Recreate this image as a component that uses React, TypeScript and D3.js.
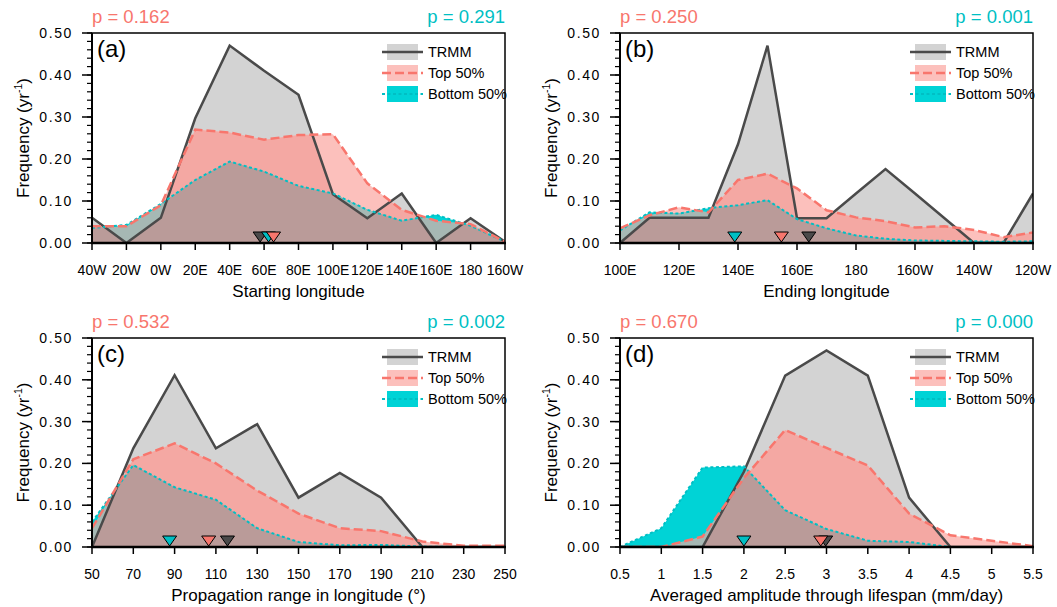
import React from "react";
import * as d3 from "d3";

// ---------- Data ----------
const aX = [-40, -20, 0, 20, 40, 60, 80, 100, 120, 140, 160, 180, 200];
const aTRMM = [0.06, 0, 0.06, 0.297, 0.47, 0.41, 0.353, 0.116, 0.059, 0.118, 0, 0.059, 0.003];
const aTop = [0.04, 0.04, 0.09, 0.27, 0.263, 0.246, 0.257, 0.259, 0.142, 0.079, 0.053, 0.045, 0.003];
const aBottom = [0.036, 0.043, 0.093, 0.15, 0.194, 0.17, 0.136, 0.118, 0.079, 0.053, 0.067, 0.041, 0.003];
const aMarks = [57.7, 65.5, 62.6]; // TRMM, Top, Bottom
const aTicks = [-40, -20, 0, 20, 40, 60, 80, 100, 120, 140, 160, 180, 200];
const aTickLabels = ["40W", "20W", "0W", "20E", "40E", "60E", "80E", "100E", "120E", "140E", "160E", "180", "160W"];
const aP = ["p = 0.162", "p = 0.291"];

const bX = [100, 110, 120, 130, 140, 150, 160, 170, 180, 190, 200, 210, 220, 230, 240];
const bTRMM = [0, 0.06, 0.06, 0.06, 0.235, 0.47, 0.059, 0.059, 0.118, 0.176, 0.118, 0.059, 0, 0, 0.118];
const bTop = [0.035, 0.066, 0.085, 0.073, 0.15, 0.165, 0.13, 0.078, 0.061, 0.052, 0.037, 0.04, 0.031, 0.014, 0.025];
const bBottom = [0.03, 0.073, 0.07, 0.083, 0.09, 0.102, 0.057, 0.035, 0.018, 0.01, 0.006, 0.005, 0.004, 0.003, 0.004];
const bMarks = [164, 154.7, 138.9];
const bTicks = [100, 120, 140, 160, 180, 200, 220, 240];
const bTickLabels = ["100E", "120E", "140E", "160E", "180", "160W", "140W", "120W"];
const bP = ["p = 0.250", "p = 0.001"];

const cX = [50, 70, 90, 110, 130, 150, 170, 190, 210, 230, 250];
const cTRMM = [0, 0.236, 0.411, 0.236, 0.294, 0.118, 0.177, 0.118, 0, 0, 0];
const cTop = [0.045, 0.21, 0.248, 0.2, 0.135, 0.08, 0.045, 0.038, 0.013, 0.003, 0.003];
const cBottom = [0.06, 0.196, 0.143, 0.113, 0.045, 0.012, 0.004, 0.005, 0.001, 0, 0];
const cMarks = [115.6, 106.5, 87.6];
const cTicks = [50, 70, 90, 110, 130, 150, 170, 190, 210, 230, 250];
const cTickLabels = ["50", "70", "90", "110", "130", "150", "170", "190", "210", "230", "250"];
const cP = ["p = 0.532", "p = 0.002"];

const dX = [0.5, 1, 1.5, 2, 2.5, 3, 3.5, 4, 4.5, 5, 5.5];
const dTRMM = [0, 0, 0, 0.18, 0.41, 0.47, 0.41, 0.118, 0, 0, 0];
const dTop = [0, 0, 0.025, 0.165, 0.28, 0.237, 0.195, 0.08, 0.028, 0.015, 0.002];
const dBottom = [0, 0.045, 0.19, 0.193, 0.088, 0.043, 0.015, 0.012, 0, 0, 0];
const dMarks = [2.99, 2.93, 2.0];
const dTicks = [0.5, 1, 1.5, 2, 2.5, 3, 3.5, 4, 4.5, 5, 5.5];
const dTickLabels = ["0.5", "1", "1.5", "2", "2.5", "3", "3.5", "4", "4.5", "5", "5.5"];
const dP = ["p = 0.670", "p = 0.000"];

const yTicks = [0, 0.1, 0.2, 0.3, 0.4, 0.5];
const yTickLabels = ["0.00", "0.10", "0.20", "0.30", "0.40", "0.50"];
const yMinor = d3.range(0, 0.501, 0.02);

const seriesNames = ["TRMM", "Top 50%", "Bottom 50%"];

// ---------- Styles ----------
const FONT = "'Liberation Sans', Arial, Helvetica, sans-serif";
const C_LINE_T = "#4a4a4a";
const C_LINE_P = "#f8766d";
const C_LINE_C = "#00bfc4";
const F_G = "#d3d3d3";
const F_P = "#fcc0bc";
const F_C = "#00d3d6";
const F_GP = "#f4a8a3";
const F_PC = "#a6b8b4";
const F_GC = "#8cc0c0";
const F_GPC = "#ba9b99";

const panels = [
  { id: "a", label: "(a)", xs: aX, t: aTRMM, p: aTop, c: aBottom, marks: aMarks, ticks: aTicks, tickLabels: aTickLabels, pv: aP, title: "Starting longitude", box: { left: 92, right: 505, top: 33, bottom: 243 } },
  { id: "b", label: "(b)", xs: bX, t: bTRMM, p: bTop, c: bBottom, marks: bMarks, ticks: bTicks, tickLabels: bTickLabels, pv: bP, title: "Ending longitude", box: { left: 620, right: 1033, top: 33, bottom: 243 } },
  { id: "c", label: "(c)", xs: cX, t: cTRMM, p: cTop, c: cBottom, marks: cMarks, ticks: cTicks, tickLabels: cTickLabels, pv: cP, title: "Propagation range in longitude (°)", box: { left: 92, right: 505, top: 338, bottom: 547 } },
  { id: "d", label: "(d)", xs: dX, t: dTRMM, p: dTop, c: dBottom, marks: dMarks, ticks: dTicks, tickLabels: dTickLabels, pv: dP, title: "Averaged amplitude through lifespan (mm/day)", box: { left: 620, right: 1033, top: 338, bottom: 547 } },
];

function Panel({ cfg }: { cfg: any }) {
  const { left, right, top, bottom } = cfg.box;
  const x = d3.scaleLinear().domain([cfg.xs[0], cfg.xs[cfg.xs.length - 1]]).range([left, right]);
  const y = d3.scaleLinear().domain([0, 0.5]).range([bottom, top]);
  const pts = (vals: number[]) => cfg.xs.map((xv: number, i: number) => [xv, vals[i]] as [number, number]);
  const area = d3.area<[number, number]>().x((d) => x(d[0])).y0(y(0)).y1((d) => y(d[1]));
  const line = d3.line<[number, number]>().x((d) => x(d[0])).y((d) => y(d[1]));
  const aT = area(pts(cfg.t)) as string;
  const aP2 = area(pts(cfg.p)) as string;
  const aC = area(pts(cfg.c)) as string;
  const id = cfg.id;
  const y0 = y(0);
  const tri = (xv: number) => {
    const px = x(xv);
    return `M${px - 7},${y0 - 11}L${px + 7},${y0 - 11}L${px},${y0 - 1}Z`;
  };
  const markColors = [C_LINE_T, C_LINE_P, C_LINE_C];
  const markOrder = [0, 2, 1];
  const legX = right - 118;
  const legRows = [top + 19, top + 40, top + 61];
  const legFills = [F_G, F_P, F_C];
  const legStroke = [C_LINE_T, C_LINE_P, C_LINE_C];
  const legDash = [undefined, "9,4", "3,2.5"];
  return (
    <g>
      <defs>
        <clipPath id={`${id}-plot`}>
          <rect x={left} y={top} width={right - left} height={bottom - top} />
        </clipPath>
        <clipPath id={`${id}-G`}>
          <path d={aT} />
        </clipPath>
        <clipPath id={`${id}-P`}>
          <path d={aP2} />
        </clipPath>
      </defs>
      <g clipPath={`url(#${id}-plot)`}>
        <path d={aT} fill={F_G} />
        <path d={aP2} fill={F_P} />
        <path d={aC} fill={F_C} />
        <path d={aP2} fill={F_GP} clipPath={`url(#${id}-G)`} />
        <path d={aC} fill={F_GC} clipPath={`url(#${id}-G)`} />
        <path d={aC} fill={F_PC} clipPath={`url(#${id}-P)`} />
        <g clipPath={`url(#${id}-G)`}>
          <path d={aC} fill={F_GPC} clipPath={`url(#${id}-P)`} />
        </g>
        <path d={line(pts(cfg.t)) as string} fill="none" stroke={C_LINE_T} strokeWidth={2.5} strokeLinejoin="miter" />
        <path d={line(pts(cfg.c)) as string} fill="none" stroke={C_LINE_C} strokeWidth={2} strokeDasharray="3,2.5" />
        <path d={line(pts(cfg.p)) as string} fill="none" stroke={C_LINE_P} strokeWidth={2.5} strokeDasharray="9,4" />
        {markOrder.map((k) => (
          <path key={k} d={tri(cfg.marks[k])} fill={markColors[k]} stroke="#000" strokeWidth={1} />
        ))}
      </g>
      {/* frame */}
      <rect x={left} y={top} width={right - left} height={bottom - top} fill="none" stroke="#000" strokeWidth={1.5} />
      <line x1={left} x2={left} y1={top} y2={bottom} stroke="#000" strokeWidth={2} />
      <line x1={left - 1} x2={right + 1} y1={bottom} y2={bottom} stroke="#000" strokeWidth={2.5} />
      {/* y ticks */}
      {yMinor.map((v, i) => (
        <line key={"m" + i} x1={left - 5} x2={left} y1={y(v)} y2={y(v)} stroke="#000" strokeWidth={1.2} />
      ))}
      {yTicks.map((v, i) => (
        <g key={"y" + i}>
          <line x1={left - 10} x2={left} y1={y(v)} y2={y(v)} stroke="#000" strokeWidth={1.5} />
          <text x={left - 19} y={y(v)} dy="0.36em" textAnchor="end" fontSize={14} letterSpacing={1.6} fontFamily={FONT} fill="#000">
            {yTickLabels[i]}
          </text>
        </g>
      ))}
      {/* x ticks */}
      {cfg.ticks.map((v: number, i: number) => (
        <g key={"x" + i}>
          <line x1={x(v)} x2={x(v)} y1={bottom} y2={bottom + 7} stroke="#000" strokeWidth={1.5} />
          <text x={x(v)} y={bottom + 32} textAnchor="middle" fontSize={14} fontFamily={FONT} fill="#000">
            {cfg.tickLabels[i]}
          </text>
        </g>
      ))}
      {/* titles */}
      <text x={(left + right) / 2} y={bottom + 54} textAnchor="middle" fontSize={17} fontFamily={FONT} fill="#000">
        {cfg.title}
      </text>
      <text transform={`translate(${left - 63},${(top + bottom) / 2}) rotate(-90)`} textAnchor="middle" fontSize={17} fontFamily={FONT} fill="#000">
        Frequency (yr<tspan fontSize={10.5} dy={-7}>-1</tspan><tspan dy={7}>)</tspan>
      </text>
      <text x={left} y={top - 10} fontSize={18.5} fontFamily={FONT} fill={C_LINE_P}>
        {cfg.pv[0]}
      </text>
      <text x={right} y={top - 10} textAnchor="end" fontSize={18.5} fontFamily={FONT} fill={C_LINE_C}>
        {cfg.pv[1]}
      </text>
      <text x={left + 5} y={top + 24} fontSize={24} fontFamily={FONT} fill="#000">
        {cfg.label}
      </text>
      {/* legend */}
      {seriesNames.map((nm, i) => (
        <g key={"l" + i}>
          <rect x={legX} y={legRows[i] - 8} width={31} height={16} fill={legFills[i]} />
          <line x1={legX - 5} x2={legX + 36} y1={legRows[i]} y2={legRows[i]} stroke={legStroke[i]} strokeWidth={i === 2 ? 2 : 2.5} strokeDasharray={legDash[i]} />
          <text x={legX + 41} y={legRows[i]} dy="0.36em" fontSize={14.5} fontFamily={FONT} fill="#000">
            {nm}
          </text>
        </g>
      ))}
    </g>
  );
}

export default function App() {
  return (
    <svg width={1057} height={607} style={{ position: "absolute", left: 0, top: 0, background: "#fff" }}>
      <rect x={0} y={0} width={1057} height={607} fill="#fff" />
      {panels.map((p) => (
        <Panel key={p.id} cfg={p} />
      ))}
    </svg>
  );
}
